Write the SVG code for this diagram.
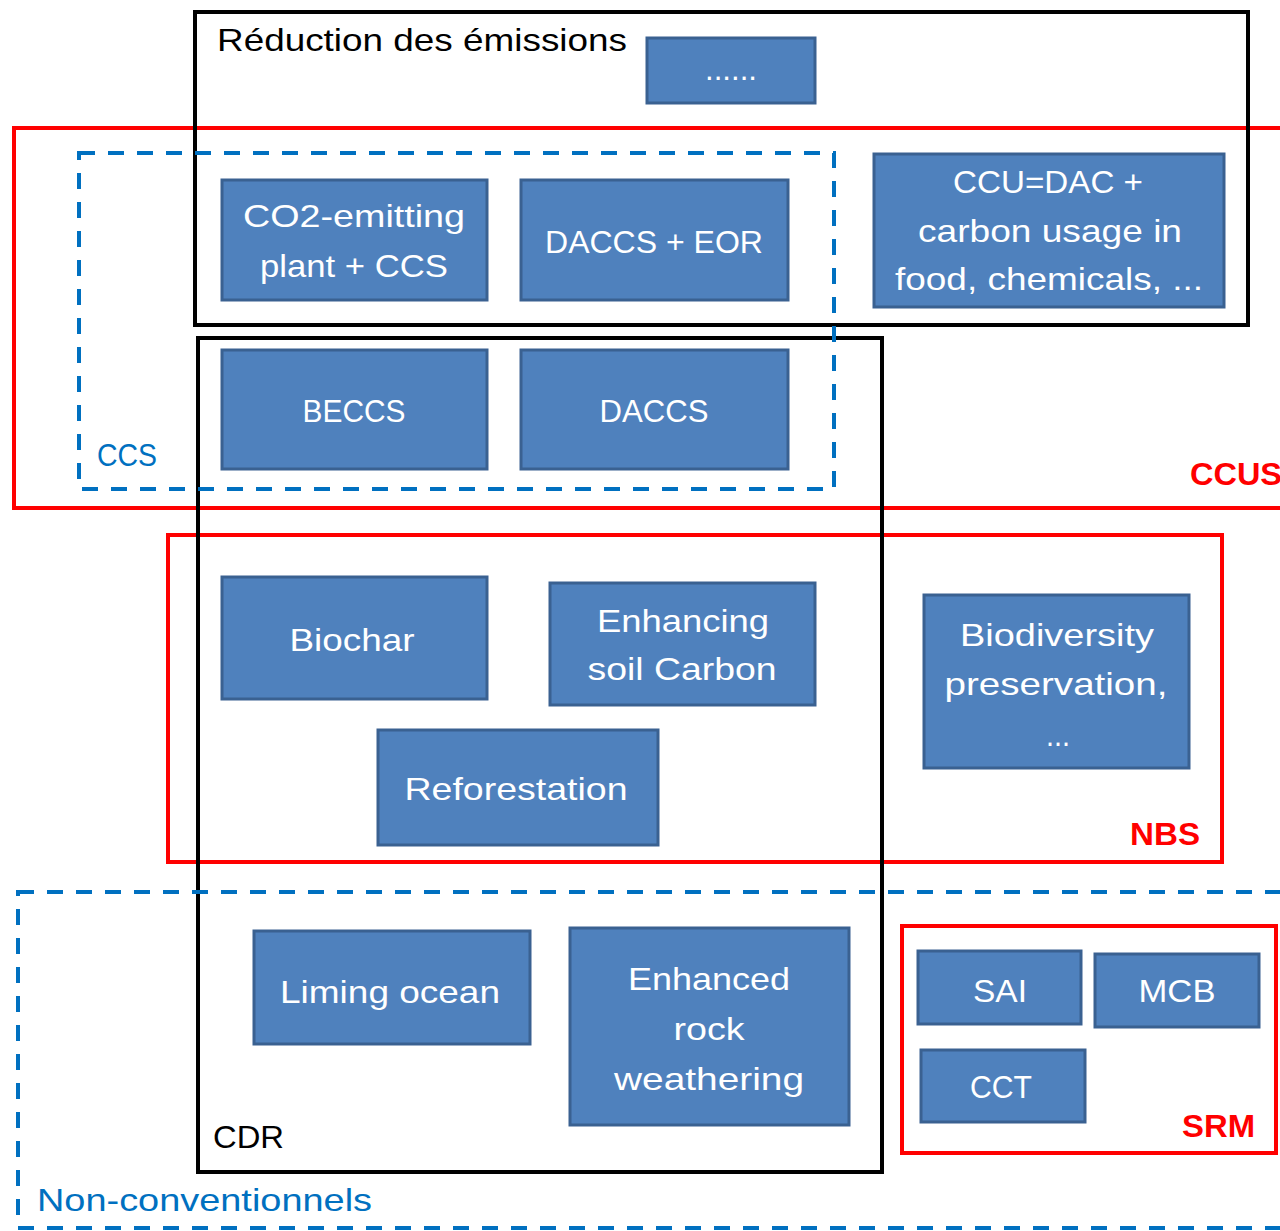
<svg xmlns="http://www.w3.org/2000/svg" width="1280" height="1231" viewBox="0 0 1280 1231">
<style>
  .bg { fill: #ffffff; }
  .red { fill: none; stroke: #ff0000; stroke-width: 4; }
  .blk { fill: none; stroke: #000000; stroke-width: 4; }
  .dash { fill: none; stroke: #0070c0; stroke-width: 4; stroke-dasharray: 16 13; }
  .node rect { fill: #4f81bd; stroke: #3a6191; stroke-width: 3; }
  .node text { fill: #ffffff; font-family: "Liberation Sans", Arial, sans-serif; font-size: 32px; text-anchor: middle; }
  .lbl { font-family: "Liberation Sans", Arial, sans-serif; font-size: 32px; }
  .rl { fill: #ff0000; font-weight: bold; }
  .bl { fill: #0070c0; }
  .kl { fill: #000000; }
</style>
<rect class="bg" x="0" y="0" width="1280" height="1231"/>

<g id="containers">
  <g id="ccus">
    <rect class="red" x="14" y="128" width="1280" height="380"/>
    <text class="lbl rl" x="1190" y="485" textLength="92" lengthAdjust="spacingAndGlyphs">CCUS</text>
  </g>
  <g id="nbs">
    <rect class="red" x="168" y="535" width="1054" height="327"/>
    <text class="lbl rl" x="1130" y="845" textLength="70" lengthAdjust="spacingAndGlyphs">NBS</text>
  </g>
  <g id="reduction">
    <rect class="blk" x="195" y="12" width="1053" height="313"/>
    <text class="lbl kl" x="217" y="51" textLength="410" lengthAdjust="spacingAndGlyphs">Réduction des émissions</text>
  </g>
  <g id="cdr">
    <rect class="blk" x="198" y="338" width="684" height="834"/>
    <text class="lbl kl" x="213" y="1148" textLength="71" lengthAdjust="spacingAndGlyphs">CDR</text>
  </g>
  <g id="ccs">
    <rect class="dash" x="79" y="153" width="755" height="336"/>
    <text class="lbl bl" x="97" y="466" textLength="60" lengthAdjust="spacingAndGlyphs">CCS</text>
  </g>
  <g id="nonconv">
    <rect class="dash" x="18" y="892" width="1290" height="336"/>
    <text class="lbl bl" x="37" y="1211" textLength="335" lengthAdjust="spacingAndGlyphs">Non-conventionnels</text>
  </g>
  <g id="srm">
    <rect class="red" x="902" y="926" width="374" height="227"/>
    <text class="lbl rl" x="1182" y="1137" textLength="73" lengthAdjust="spacingAndGlyphs">SRM</text>
  </g>
</g>

<g id="connectors"></g>

<g id="n-dots" class="node"><rect x="647" y="38" width="168" height="65"/><text x="731" y="80" textLength="52" lengthAdjust="spacingAndGlyphs">......</text></g>
<g id="n-co2" class="node"><rect x="222" y="180" width="265" height="120"/>
  <text x="354" y="227" textLength="222" lengthAdjust="spacingAndGlyphs">CO2-emitting</text>
  <text x="354" y="277" textLength="188" lengthAdjust="spacingAndGlyphs">plant + CCS</text></g>
<g id="n-dacceor" class="node"><rect x="521" y="180" width="267" height="120"/>
  <text x="654" y="253" textLength="218" lengthAdjust="spacingAndGlyphs">DACCS + EOR</text></g>
<g id="n-ccu" class="node"><rect x="874" y="154" width="350" height="153"/>
  <text x="1048" y="193" textLength="190" lengthAdjust="spacingAndGlyphs">CCU=DAC +</text>
  <text x="1050" y="242" textLength="264" lengthAdjust="spacingAndGlyphs">carbon usage in</text>
  <text x="1049" y="290" textLength="308" lengthAdjust="spacingAndGlyphs">food, chemicals, ...</text></g>
<g id="n-beccs" class="node"><rect x="222" y="350" width="265" height="119"/>
  <text x="354" y="422" textLength="103" lengthAdjust="spacingAndGlyphs">BECCS</text></g>
<g id="n-daccs" class="node"><rect x="521" y="350" width="267" height="119"/>
  <text x="654" y="422" textLength="109" lengthAdjust="spacingAndGlyphs">DACCS</text></g>
<g id="n-biochar" class="node"><rect x="222" y="577" width="265" height="122"/>
  <text x="352" y="651" textLength="125" lengthAdjust="spacingAndGlyphs">Biochar</text></g>
<g id="n-soil" class="node"><rect x="550" y="583" width="265" height="122"/>
  <text x="683" y="632" textLength="172" lengthAdjust="spacingAndGlyphs">Enhancing</text>
  <text x="682" y="680" textLength="189" lengthAdjust="spacingAndGlyphs">soil Carbon</text></g>
<g id="n-refor" class="node"><rect x="378" y="730" width="280" height="115"/>
  <text x="516" y="800" textLength="223" lengthAdjust="spacingAndGlyphs">Reforestation</text></g>
<g id="n-biodiv" class="node"><rect x="924" y="595" width="265" height="173"/>
  <text x="1057" y="646" textLength="194" lengthAdjust="spacingAndGlyphs">Biodiversity</text>
  <text x="1056" y="695" textLength="223" lengthAdjust="spacingAndGlyphs">preservation,</text>
  <text x="1058" y="746" textLength="24" lengthAdjust="spacingAndGlyphs">...</text></g>
<g id="n-liming" class="node"><rect x="254" y="931" width="276" height="113"/>
  <text x="390" y="1003" textLength="220" lengthAdjust="spacingAndGlyphs">Liming ocean</text></g>
<g id="n-rock" class="node"><rect x="570" y="928" width="279" height="197"/>
  <text x="709" y="990" textLength="162" lengthAdjust="spacingAndGlyphs">Enhanced</text>
  <text x="709" y="1040" textLength="71" lengthAdjust="spacingAndGlyphs">rock</text>
  <text x="709" y="1090" textLength="190" lengthAdjust="spacingAndGlyphs">weathering</text></g>
<g id="n-sai" class="node"><rect x="918" y="951" width="163" height="73"/>
  <text x="1000" y="1002" textLength="54" lengthAdjust="spacingAndGlyphs">SAI</text></g>
<g id="n-mcb" class="node"><rect x="1095" y="954" width="164" height="73"/>
  <text x="1177" y="1002" textLength="77" lengthAdjust="spacingAndGlyphs">MCB</text></g>
<g id="n-cct" class="node"><rect x="921" y="1050" width="164" height="72"/>
  <text x="1001" y="1098" textLength="62" lengthAdjust="spacingAndGlyphs">CCT</text></g>
</svg>
